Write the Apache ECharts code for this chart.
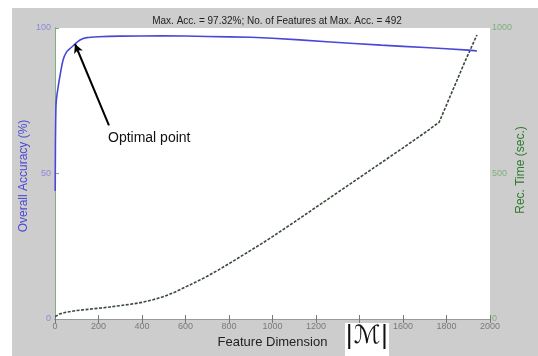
<!DOCTYPE html>
<html>
<head>
<meta charset="utf-8">
<script src="https://cdn.jsdelivr.net/npm/echarts@6/dist/echarts.min.js"></script>
<style>
  html, body { margin: 0; padding: 0; background: #ffffff; }
  #frame { position: absolute; left: 12px; top: 8px; width: 526px; height: 348px; background: #cdcdcd; }
  #chart { position: absolute; left: 0; top: 0; width: 538px; height: 356px; }
</style>
</head>
<body>
<div id="frame"></div>
<div id="chart"></div>
<script>
// Feature dimension vs. overall accuracy (%)
const accFeatures = [1, 2, 5, 15, 37, 54, 70, 92, 115, 146, 200, 300, 492, 700, 900, 1000, 1250, 1500, 1700, 1900, 1940];
const accValues   = [44, 60, 74, 80, 89, 91.9, 93, 94.5, 95.9, 96.7, 97.0, 97.2, 97.32, 97.1, 96.8, 96.5, 95.3, 94.1, 93.3, 92.4, 92.1];

// Feature dimension vs. recognition time (sec.)
const timeFeatures = [1, 20, 50, 100, 150, 200, 250, 300, 350, 400, 450, 500, 550, 600, 650, 700, 750, 800, 850, 900, 950, 1000, 1100, 1200, 1300, 1400, 1500, 1600, 1700, 1766, 1885, 1940];
const timeValues   = [8, 17, 23, 29, 33, 37, 41, 46, 51, 57, 66, 77, 92, 110, 128, 147, 168, 190, 213, 236, 259, 283, 333, 384, 435, 486, 537, 588, 640, 676, 885, 976];

const xTicks = [0, 200, 400, 600, 800, 1000, 1200, 1400, 1600, 1800, 2000];
const accTicks = [0, 50, 100];
const timeTicks = [0, 500, 1000];

// Annotation: text anchor and the optimal point it refers to
const optimalPoint = [92, 94.5];
const optimalLabelAnchor = [248, 66.5];

const pair = (xs, ys) => xs.map((x, i) => [x, ys[i]]);

const chart = echarts.init(document.getElementById('chart'), null, { renderer: 'canvas' });

const font = 'Liberation Sans, Arial, sans-serif';
const tickLabel = { fontFamily: font, fontSize: 9, color: '#7a7a7a' };

chart.setOption({
  backgroundColor: 'transparent',
  animation: false,
  title: {
    text: 'Max. Acc. = 97.32%; No. of Features at Max. Acc. = 492',
    left: 272, top: 11, textAlign: 'center',
    textStyle: { fontFamily: font, fontSize: 10, fontWeight: 'normal', color: '#222' }
  },
  grid: {
    left: 55, top: 28, right: 48, bottom: 37,
    show: true, backgroundColor: '#ffffff', borderWidth: 0
  },
  xAxis: [
    {
      type: 'value', min: 0, max: 2000, interval: 200, position: 'bottom',
      name: 'Feature Dimension', nameLocation: 'middle', nameGap: 13,
      nameTextStyle: { fontFamily: font, fontSize: 13, color: '#222' },
      axisLine: { lineStyle: { color: '#777', width: 1 } },
      axisTick: { inside: true, length: 4, lineStyle: { color: '#777' } },
      axisLabel: Object.assign({ margin: 3, formatter: v => xTicks.includes(v) ? String(v) : '' }, tickLabel),
      splitLine: { show: false }
    },
    {
      type: 'value', min: 0, max: 2000, interval: 200, position: 'top',
      axisLine: { lineStyle: { color: '#999', width: 1 } },
      axisTick: { inside: true, length: 4, lineStyle: { color: '#777' } },
      axisLabel: { show: false },
      splitLine: { show: false }
    }
  ],
  yAxis: [
    {
      type: 'value', min: 0, max: 100, interval: 50, position: 'left',
      axisLine: { show: true, lineStyle: { color: '#6a6ae0', width: 1 } },
      axisTick: { show: true, inside: true, length: 4, lineStyle: { color: '#8888e0' } },
      axisLabel: Object.assign({}, tickLabel, { color: '#8a8ad8', margin: 4,
        formatter: v => accTicks.includes(v) ? String(v) : '' }),
      splitLine: { show: false }
    },
    {
      type: 'value', min: 0, max: 1000, interval: 500, position: 'right',
      axisLine: { show: true, lineStyle: { color: '#7fae7f', width: 1 } },
      axisTick: { show: true, inside: false, length: 3, lineStyle: { color: '#7fae7f' } },
      axisLabel: Object.assign({}, tickLabel, { color: '#7fae7f', margin: 2,
        formatter: v => timeTicks.includes(v) ? String(v) : '' }),
      splitLine: { show: false }
    }
  ],
  series: [
    {
      name: 'Rec. Time', type: 'line', xAxisIndex: 0, yAxisIndex: 1,
      data: pair(timeFeatures, timeValues), smooth: false, showSymbol: false,
      lineStyle: { color: '#3a4a3a', width: 1.6, type: [3, 1.5] }, z: 2
    },
    {
      name: 'Overall Accuracy', type: 'line', xAxisIndex: 0, yAxisIndex: 0,
      data: pair(accFeatures, accValues), smooth: 0.2, showSymbol: false,
      lineStyle: { color: '#4848d8', width: 1.6 }, z: 3,
      markLine: {
        silent: true, animation: false,
        symbol: ['none', 'arrow'], symbolSize: [7, 9],
        lineStyle: { color: '#000', width: 2, type: 'solid' },
        label: { show: false },
        data: [[
          { coord: optimalLabelAnchor },
          { coord: optimalPoint }
        ]]
      }
    }
  ],
  graphic: [
    {
      // left axis title
      type: 'text', x: 24, y: 176, rotation: Math.PI / 2,
      style: { text: 'Overall Accuracy (%)', font: '12px ' + font, fill: '#4a4ad8',
               align: 'center', verticalAlign: 'middle' }
    },
    {
      // right axis title
      type: 'text', x: 521, y: 170, rotation: Math.PI / 2,
      style: { text: 'Rec. Time (sec.)', font: '12px ' + font, fill: '#2f7a2f',
               align: 'center', verticalAlign: 'middle' }
    },
    {
      type: 'text', left: 108, top: 131,
      style: { text: 'Optimal point', font: '14px ' + font, fill: '#111' }
    },
    {
      type: 'rect', left: 345, top: 323, z: 100, shape: { width: 44, height: 33 },
      style: { fill: '#ffffff' }
    },
    {
      type: 'text', left: 345, top: 324, z: 101,
      style: { text: '|\u2133|', font: '25px DejaVu Sans, sans-serif', fill: '#111' }
    }
  ]
});
</script>
</body>
</html>
